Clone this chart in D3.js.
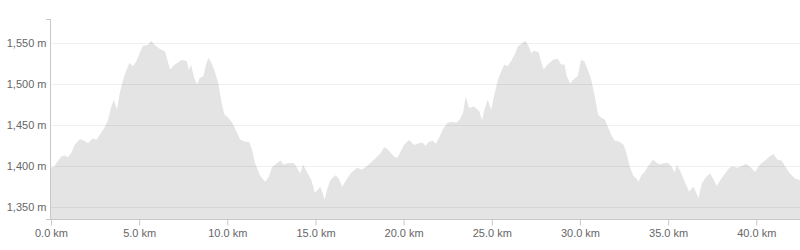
<!DOCTYPE html>
<html>
<head>
<meta charset="utf-8">
<script src="https://cdn.jsdelivr.net/npm/d3@7"></script>
<style>
  html, body { margin: 0; padding: 0; background: #fff; }
  svg { display: block; font-family: "Liberation Sans", Arial, sans-serif; }
</style>
</head>
<body>
<svg id="chart" width="800" height="250"></svg>
<script>
// elevation profile
const distanceKm = [
  0.00, 0.21, 0.30, 0.59, 0.78, 0.96, 1.15, 1.34, 1.63, 1.82, 2.10, 2.38, 2.57, 2.76, 3.05, 3.23,
  3.42, 3.57, 3.74, 3.90, 4.08, 4.27, 4.46, 4.65, 4.84, 5.03, 5.22, 5.50, 5.69, 5.88, 6.18, 6.47,
  6.75, 7.03, 7.41, 7.70, 7.83, 7.94, 8.13, 8.30, 8.41, 8.64, 8.77, 8.92, 9.11, 9.30, 9.49, 9.68,
  9.83, 10.06, 10.25, 10.44, 10.72, 11.00, 11.23, 11.38, 11.57, 11.85, 12.14, 12.35, 12.54, 12.82,
  13.01, 13.20, 13.48, 13.77, 13.95, 14.14, 14.29, 14.52, 14.77, 14.96, 15.09, 15.27, 15.41, 15.52,
  15.65, 15.84, 16.13, 16.32, 16.51, 16.69, 16.98, 17.36, 17.64, 17.92, 18.22, 18.51, 18.70, 18.89,
  19.08, 19.27, 19.46, 19.64, 19.83, 20.02, 20.31, 20.59, 20.87, 21.06, 21.25, 21.44, 21.67, 21.82,
  22.04, 22.23, 22.48, 22.76, 22.99, 23.18, 23.37, 23.52, 23.71, 23.99, 24.29, 24.45, 24.58, 24.77,
  24.96, 25.14, 25.34, 25.52, 25.71, 25.90, 26.09, 26.34, 26.47, 26.66, 26.90, 27.10, 27.23, 27.41,
  27.66, 27.79, 27.95, 28.17, 28.46, 28.74, 28.93, 29.12, 29.25, 29.44, 29.69, 29.88, 30.06, 30.25,
  30.37, 30.65, 30.84, 31.03, 31.21, 31.41, 31.59, 31.78, 31.97, 32.25, 32.48, 32.63, 32.82, 33.01,
  33.20, 33.33, 33.48, 33.67, 33.86, 34.14, 34.37, 34.55, 34.82, 34.99, 35.18, 35.37, 35.50, 35.75,
  35.94, 36.19, 36.43, 36.59, 36.72, 36.91, 37.15, 37.38, 37.57, 37.76, 37.95, 38.23, 38.48, 38.67,
  38.89, 39.18, 39.42, 39.65, 39.93, 40.21, 40.50, 40.74, 40.97, 41.20, 41.44, 41.63, 41.91, 42.19,
  42.48
]
const elevationM = [
  1398, 1400, 1404, 1412, 1413, 1411, 1416, 1426, 1433, 1432, 1428, 1434, 1432, 1438, 1448, 1456,
  1473, 1481, 1469, 1489, 1505, 1517, 1526, 1522, 1528, 1538, 1547, 1548, 1553, 1548, 1543, 1540,
  1518, 1524, 1530, 1528, 1517, 1524, 1507, 1500, 1507, 1510, 1522, 1532, 1526, 1515, 1501, 1477,
  1463, 1459, 1454, 1446, 1433, 1430, 1430, 1422, 1404, 1389, 1381, 1387, 1399, 1404,
  1407, 1402, 1404, 1404, 1398, 1391, 1402, 1393, 1383, 1368, 1370, 1375, 1367, 1359,
  1371, 1383, 1389, 1385, 1375, 1381, 1391, 1398, 1396, 1400, 1406, 1412, 1416, 1423,
  1421, 1416, 1412, 1410, 1418, 1426, 1432, 1426, 1428, 1429, 1425, 1430, 1431, 1427,
  1436, 1445, 1453, 1454, 1453, 1457, 1465, 1485, 1471, 1473, 1467, 1456, 1469, 1481,
  1469, 1487, 1505, 1515, 1524, 1522, 1528, 1538, 1546, 1549, 1553, 1546, 1538, 1541,
  1539, 1528, 1518, 1524, 1530, 1531, 1524, 1524, 1510, 1501, 1507, 1510, 1530, 1528,
  1522, 1505, 1485, 1463, 1459, 1457, 1448, 1438, 1431, 1430, 1426, 1416, 1400, 1389,
  1385, 1381, 1389, 1393, 1400, 1408, 1404, 1402, 1404, 1404, 1400, 1392, 1402, 1391,
  1381, 1369, 1375, 1368, 1361, 1379, 1387, 1391, 1384, 1376, 1383, 1391, 1398, 1400,
  1398, 1400, 1403, 1399, 1393, 1402, 1407, 1412, 1415, 1408, 1407, 1400, 1391, 1385,
  1383
]
const yTicks = [1350, 1400, 1450, 1500, 1550]
const xTicks = [0, 5, 10, 15, 20, 25, 30, 35, 40]

const points = distanceKm.map((d, i) => ({ x: d, y: elevationM[i] }))

const svg = d3.select("#chart")
const plotLeft = 51, plotRight = 800, plotTop = 19.5, plotBottom = 219.5

const x = d3.scaleLinear().domain([0, d3.max(distanceKm)]).range([plotLeft, plotRight])
const y = d3.scaleLinear().domain([1335, 1579]).range([plotBottom, plotTop])

// area
svg.append("path")
    .datum(points)
    .attr("fill", "#e4e4e4")
    .attr("d", d3.area().x(d => x(d.x)).y0(plotBottom).y1(d => y(d.y)))

// grid lines on top of the area
svg.append("g")
    .selectAll("line")
    .data(yTicks)
    .enter().append("line")
    .attr("x1", plotLeft)
    .attr("x2", plotRight)
    .attr("y1", d => Math.round(y(d)) + 0.5)
    .attr("y2", d => Math.round(y(d)) + 0.5)
    .attr("stroke", "rgba(0,0,0,0.06)")

// y axis
const axisY = d3.axisLeft(y).tickValues(yTicks).tickSize(0).tickPadding(4)
    .tickFormat(d => d3.format(",")(d) + " m")
svg.append("g")
    .attr("class", "axis axis--y")
    .attr("transform", "translate(" + (plotLeft - 0.5) + ",0)")
    .call(axisY)
    .call(g => g.select(".domain").remove())
    .call(g => g.selectAll("text").attr("fill", "#666").style("font-size", "11px"))

svg.append("line")
    .attr("x1", plotLeft - 0.5).attr("x2", plotLeft - 0.5)
    .attr("y1", plotTop).attr("y2", plotBottom)
    .attr("stroke", "#c8c8c8")
svg.append("line")
    .attr("x1", plotLeft - 5).attr("x2", plotLeft)
    .attr("y1", plotTop).attr("y2", plotTop)
    .attr("stroke", "#c8c8c8")

// x axis
const axisX = d3.axisBottom(x).tickValues(xTicks).tickSizeInner(6).tickSizeOuter(0).tickPadding(4)
    .tickFormat(d => d3.format(".1f")(d) + " km")
svg.append("g")
    .attr("class", "axis axis--x")
    .attr("transform", "translate(0," + plotBottom + ")")
    .call(axisX)
    .call(g => g.select(".domain").remove())
    .call(g => g.selectAll(".tick line").attr("stroke", "#c8c8c8"))
    .call(g => g.selectAll("text").attr("fill", "#666").style("font-size", "11px"))

svg.append("line")
    .attr("x1", plotLeft - 5).attr("x2", plotRight)
    .attr("y1", plotBottom).attr("y2", plotBottom)
    .attr("stroke", "#c8c8c8")
</script>
</body>
</html>
